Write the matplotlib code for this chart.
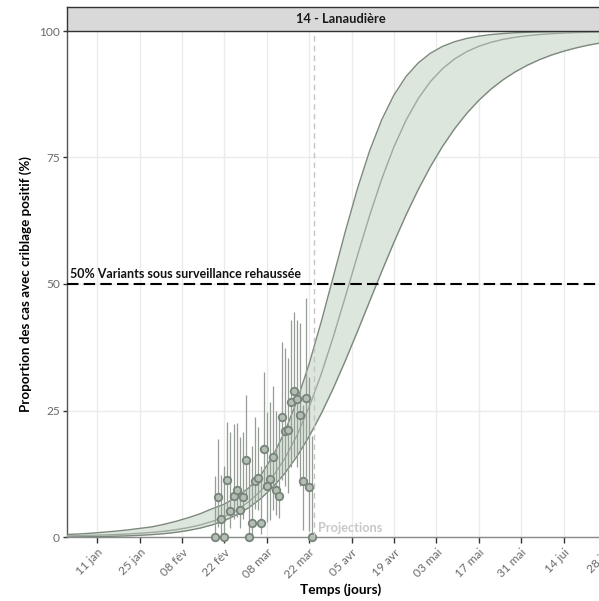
import numpy as np
import pandas as pd
import matplotlib
matplotlib.use("Agg")
import matplotlib.pyplot as plt

plt.rcParams["font.family"] = ["Lato", "DejaVu Sans"]

region = "14 - Lanaudière"
x_start, x_end = "2021-01-01", "2021-07-01"
projection_start = "2021-03-23 16:00"
threshold = 50
threshold_label = "50% Variants sous surveillance rehaussée"

tick_dates = ["2021-01-11", "2021-01-25", "2021-02-08", "2021-02-22", "2021-03-08",
              "2021-03-22", "2021-04-05", "2021-04-19", "2021-05-03", "2021-05-17",
              "2021-05-31", "2021-06-14", "2021-06-28"]
tick_labels = ["11 jan", "25 jan", "08 fév", "22 fév", "08 mar", "22 mar", "05 avr",
               "19 avr", "03 mai", "17 mai", "31 mai", "14 jui", "28 jui"]

# daily share of screened cases (%), with 95% interval
obs_dates = pd.date_range("2021-02-19", "2021-03-23")
obs_pct = [0, 8.0, 3.6, 0, 11.2, 5.1, 8.2, 9.3, 5.4, 8.0, 15.3, 0, 2.8, 11.0, 11.6, 2.8,
           17.4, 10.1, 11.5, 15.9, 9.3, 8.2, 23.8, 20.9, 21.1, 26.7, 28.9, 27.2, 24.1,
           11.0, 27.5, 9.9, 0]
obs_low = [0, 2.0, 0.6, 0, 4.7, 1.8, 3.5, 4.0, 1.8, 3.5, 8.0, 0, 0.5, 5.5, 5.3, 0.5,
           10.5, 3.0, 3.4, 5.3, 4.3, 3.7, 11.3, 10.0, 8.6, 13.9, 15.9, 13.9, 10.0,
           1.4, 11.9, 1.2, 0]
obs_high = [12, 19.3, 12.3, 14, 22.8, 20.8, 22.3, 22.5, 19.8, 20.8, 28.0, 15, 18, 23.8,
            21.8, 14, 32.7, 24.8, 26.7, 29.8, 24.9, 23.8, 38.6, 37.3, 35.3, 42.9, 44.5,
            42.9, 42.2, 26.1, 47.2, 31.7, 20]

# fitted projection (%), every 4 days from 1 jan
fit_dates = pd.date_range(x_start, periods=47, freq="4D")
fit_mid = [0.22, 0.27, 0.33, 0.40, 0.49, 0.59, 0.73, 0.91, 1.14, 1.44, 1.85, 2.38, 3.09,
           4.03, 5.28, 6.94, 9.12, 11.95, 15.59, 20.14, 25.70, 32.26, 39.66, 47.63,
           55.76, 63.62, 70.83, 77.13, 82.39, 86.65, 89.98, 92.54, 94.47, 95.91, 96.98,
           97.76, 98.34, 98.76, 99.07, 99.30, 99.47, 99.59, 99.69, 99.76, 99.81, 99.85,
           99.88]
fit_up = [0.50, 0.60, 0.75, 0.95, 1.15, 1.40, 1.70, 2.00, 2.50, 3.10, 3.80, 4.60, 5.60,
          6.50, 7.90, 9.70, 12.20, 16.00, 20.88, 26.97, 34.27, 42.60, 51.54, 60.54,
          68.98, 76.40, 82.54, 87.37, 91.02, 93.69, 95.60, 96.95, 97.88, 98.53, 98.98,
          99.29, 99.50, 99.65, 99.75, 99.82, 99.87, 99.90, 99.93, 99.94, 99.96, 99.97,
          99.97]
fit_low = [0.03, 0.05, 0.07, 0.11, 0.16, 0.23, 0.33, 0.47, 0.66, 0.92, 1.28, 1.76, 2.40,
           3.25, 4.36, 5.79, 7.60, 9.86, 12.64, 15.98, 19.90, 24.41, 29.45, 34.93, 40.71,
           46.64, 52.54, 58.26, 63.67, 68.65, 73.16, 77.16, 80.67, 83.70, 86.29, 88.49,
           90.35, 91.91, 93.22, 94.32, 95.24, 96.00, 96.64, 97.18, 97.62, 98.00, 98.31]

edge = "#7b887b"
band = "#dde6dd"
grey_txt = "#6a6a6a"

fig = plt.figure(figsize=(5.99, 6.01), dpi=100)
# panel runs past the right edge of the figure
ax = fig.add_axes([67 / 599, 64 / 601, 548 / 599, 506 / 601])
strip = fig.add_axes([67 / 599, 570 / 601, 548 / 599, 24 / 601])

ax.fill_between(fit_dates, fit_low, fit_up, color=band, lw=0, zorder=2)
ax.plot(fit_dates, fit_up, color=edge, lw=1.0, zorder=3)
ax.plot(fit_dates, fit_low, color=edge, lw=1.0, zorder=3)
ax.plot(fit_dates, fit_mid, color="#9ea89e", lw=1.0, zorder=3)

obs_pct = np.array(obs_pct)
ax.vlines(obs_dates, obs_low, obs_high, color="#949e94", lw=0.9, zorder=4)
ax.plot(obs_dates, obs_pct, "o", ms=5.4, mfc="#b4beb4", mec="#77847a", mew=1.3,
        zorder=5, clip_on=False)

ax.axhline(threshold, color="black", lw=1.5, ls=(0, (5.5, 2.5)), zorder=6)
ax.text(pd.Timestamp("2021-01-02"), threshold + 0.8, threshold_label, fontsize=9,
        fontweight="bold", color="#111111", ha="left", va="bottom")

proj = pd.Timestamp(projection_start)
ax.axvline(proj, color="#c4c4c4", lw=1.0, ls=(0, (4, 3)), zorder=6)
ax.text(proj + pd.Timedelta(days=1.2), 1.7, "Projections", fontsize=9.2,
        fontweight="bold", color="#c8c8c8", ha="left", va="center")

ax.set_xlim(pd.Timestamp(x_start), pd.Timestamp(x_end))
ax.set_ylim(0, 100)
ax.set_xticks(pd.to_datetime(tick_dates))
ax.set_xticklabels(tick_labels, rotation=45, ha="right", va="top",
                   rotation_mode="anchor")
ax.set_yticks([0, 25, 50, 75, 100])
ax.tick_params(axis="x", length=4, width=1, color="#333333", labelsize=8.6,
               labelcolor=grey_txt, pad=3)
ax.tick_params(axis="y", length=3, width=1, color="#333333", labelsize=8.6,
               labelcolor=grey_txt, pad=2)
ax.grid(True, color="#ebebeb", lw=1.0, zorder=0)
ax.set_axisbelow(True)
for side in ["top", "right"]:
    ax.spines[side].set_visible(False)
ax.spines["left"].set_color("#555555")
ax.spines["bottom"].set_color("#8a8a8a")
ax.spines["left"].set_linewidth(1.0)
ax.spines["bottom"].set_linewidth(1.0)

ax.set_xlabel("Temps (jours)", fontsize=9.8, fontweight="bold", labelpad=2)
ax.set_ylabel("Proportion des cas avec criblage positif (%)", fontsize=9.6,
              fontweight="bold", labelpad=5)

strip.set_facecolor("#d9d9d9")
strip.set_xticks([])
strip.set_yticks([])
for s in strip.spines.values():
    s.set_color("#333333")
    s.set_linewidth(1.0)
strip.text(0.5, 0.5, region, transform=strip.transAxes, ha="center", va="center",
           fontsize=9.3, fontweight="bold", color="#1a1a1a")

fig.savefig("out.png", dpi=100)
